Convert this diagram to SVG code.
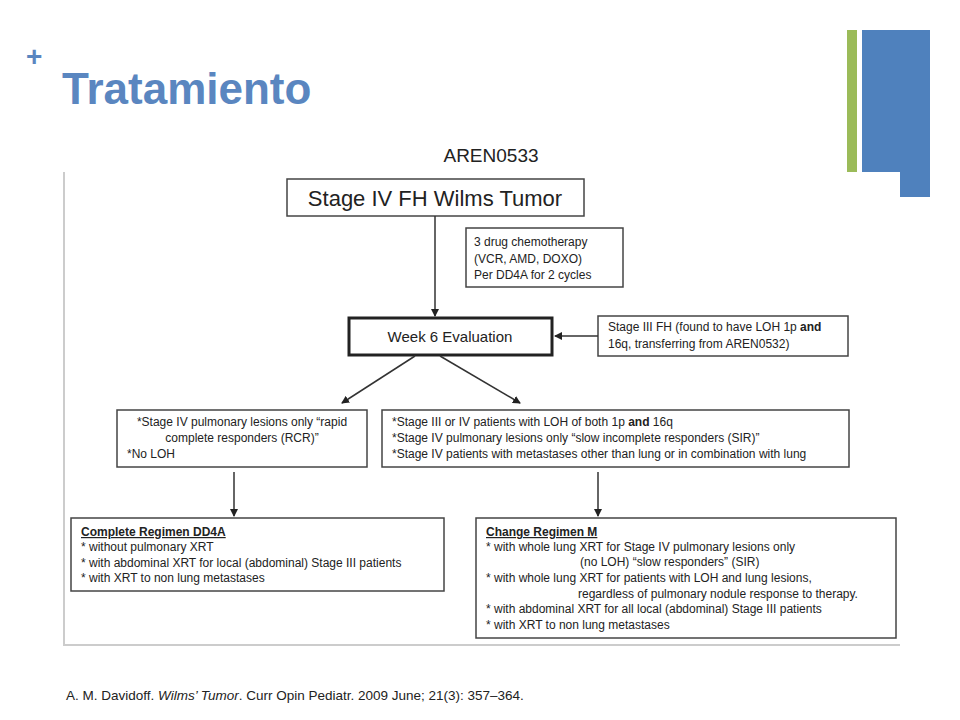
<svg xmlns="http://www.w3.org/2000/svg" width="960" height="720" viewBox="0 0 960 720">
<defs>
<style>
text{font-family:"Liberation Sans",Arial,sans-serif;fill:#222}
.b{fill:#fff;stroke:#444;stroke-width:1.5}
.s{font-size:12px}
.c{stroke:#333;stroke-width:1.5;fill:none}
</style>
<marker id="a" markerWidth="8" markerHeight="8" refX="7" refY="4" orient="auto" markerUnits="userSpaceOnUse"><path d="M0,0L8,4L0,8Z" fill="#222"/></marker>
</defs>
<rect width="960" height="720" fill="#fff"/>
<g id="header">
<text x="26" y="66" style="font-size:28px;fill:#5a86c0;font-weight:bold">+</text>
<text x="62" y="104" style="font-size:44px;fill:#5a86c0;font-weight:bold">Tratamiento</text>
<rect x="847" y="30" width="10" height="142" fill="#9bbb59"/>
<path d="M862,30H930V197H900V172H862Z" fill="#4f81bd"/>
<text x="491" y="162" text-anchor="middle" style="font-size:19px">AREN0533</text>
</g>
<g id="frame"><path d="M64,172V645H900" fill="none" stroke="#ccc" stroke-width="2"/></g>
<g id="n1"><rect class="b" x="287" y="179" width="297" height="37"/><text x="435" y="206" text-anchor="middle" style="font-size:22px">Stage IV  FH Wilms Tumor</text></g>
<g id="n2"><rect class="b" x="466" y="228" width="157" height="59"/>
<text class="s" x="474" y="246">3 drug chemotherapy</text><text class="s" x="474" y="263">(VCR, AMD, DOXO)</text><text class="s" x="474" y="279">Per DD4A for 2 cycles</text></g>
<g id="n3"><rect x="349" y="318" width="203" height="37" fill="#fff" stroke="#222" stroke-width="3"/><text x="450" y="342" text-anchor="middle" style="font-size:15px">Week 6 Evaluation</text></g>
<g id="n4"><rect class="b" x="598" y="316" width="250" height="40"/>
<text class="s" x="608" y="331">Stage III FH (found to have LOH 1p <tspan font-weight="bold">and</tspan></text><text class="s" x="608" y="348">16q, transferring from AREN0532)</text></g>
<g id="n5"><rect class="b" x="117" y="410" width="250" height="57"/>
<text class="s" x="242" y="426" text-anchor="middle">*Stage IV pulmonary lesions only “rapid</text>
<text class="s" x="242" y="442" text-anchor="middle">complete responders (RCR)”</text>
<text class="s" x="127" y="458">*No LOH</text></g>
<g id="n6"><rect class="b" x="382" y="410" width="467" height="57"/>
<text class="s" x="392" y="426">*Stage III or IV patients with LOH of both 1p <tspan font-weight="bold">and</tspan> 16q</text>
<text class="s" x="392" y="442">*Stage IV pulmonary lesions only “slow incomplete responders (SIR)”</text>
<text class="s" x="392" y="458">*Stage IV patients with metastases other than lung or in combination with lung</text></g>
<g id="n7"><rect class="b" x="71" y="518" width="373" height="73"/>
<text class="s" x="81" y="536" font-weight="bold" text-decoration="underline">Complete Regimen DD4A</text>
<text class="s" x="81" y="551">*  without pulmonary XRT</text>
<text class="s" x="81" y="567">*  with abdominal XRT for local (abdominal) Stage III patients</text>
<text class="s" x="81" y="582">*  with XRT to non lung metastases</text></g>
<g id="n8"><rect class="b" x="476" y="518" width="420" height="120"/>
<text class="s" x="486" y="536" font-weight="bold" text-decoration="underline">Change Regimen M</text>
<text class="s" x="486" y="551">*  with whole lung XRT for Stage IV pulmonary lesions only</text>
<text class="s" x="580" y="566">(no LOH) “slow responders” (SIR)</text>
<text class="s" x="486" y="582">*  with whole lung XRT for patients with LOH and lung lesions,</text>
<text class="s" x="578" y="598">regardless of pulmonary nodule response to therapy.</text>
<text class="s" x="486" y="613">*  with abdominal XRT for all local (abdominal) Stage III patients</text>
<text class="s" x="486" y="629">*  with XRT to non lung metastases</text></g>
<g id="connectors">
<line class="c" x1="435" y1="216" x2="435" y2="316" marker-end="url(#a)"/>
<line class="c" x1="598" y1="336" x2="555" y2="336" marker-end="url(#a)"/>
<line class="c" x1="415" y1="356" x2="342" y2="403" marker-end="url(#a)"/>
<line class="c" x1="440" y1="356" x2="520" y2="403" marker-end="url(#a)"/>
<line class="c" x1="234" y1="472" x2="234" y2="516" marker-end="url(#a)"/>
<line class="c" x1="598" y1="472" x2="598" y2="516" marker-end="url(#a)"/>
</g>
<text x="66" y="700" style="font-size:13.5px">A. M. Davidoff. <tspan font-style="italic">Wilms’ Tumor</tspan>. Curr Opin Pediatr. 2009 June; 21(3): 357–364.</text>
</svg>
